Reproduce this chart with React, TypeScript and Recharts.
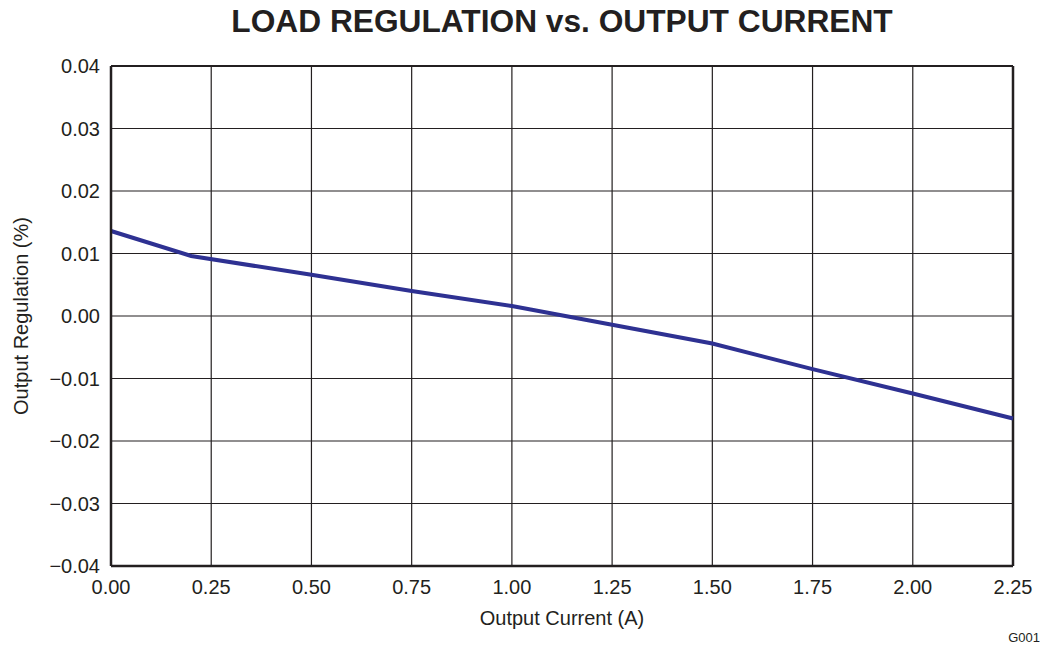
import {
  LineChart, Line, XAxis, YAxis, CartesianGrid, ReferenceLine, Label,
} from 'recharts';

const currentA = [0, 0.2, 0.5, 0.75, 1.0, 1.25, 1.5, 1.75, 2.0, 2.25];
const regulationPct = [0.0136, 0.0096, 0.0066, 0.004, 0.0016, -0.0014, -0.0044, -0.0085, -0.0124, -0.0164];
const xTicks = [0, 0.25, 0.5, 0.75, 1.0, 1.25, 1.5, 1.75, 2.0, 2.25];
const yTicks = [-0.04, -0.03, -0.02, -0.01, 0, 0.01, 0.02, 0.03, 0.04];

const data = currentA.map((x, i) => ({ x, y: regulationPct[i] }));

const ink = '#231f20';
const font = 'Arial, "Liberation Sans", Helvetica, sans-serif';

const fmtY = (v: number) => (v < 0 ? '\u2212' + Math.abs(v).toFixed(2) : v.toFixed(2));

export default function App() {
  return (
    <div style={{ position: 'absolute', left: 0, top: 0, width: 1042, height: 647, background: '#fff', fontFamily: font }}>
      {/* Title */}
      <div style={{
        position: 'absolute', left: 0, width: 1124, top: 5, textAlign: 'center',
        fontSize: 31.7, lineHeight: '32px', fontWeight: 700, color: ink,
      }}>
        LOAD REGULATION vs. OUTPUT CURRENT
      </div>

      <LineChart width={1042} height={647} data={data} margin={{ top: 66, right: 29, bottom: 0, left: 0 }}>
        <CartesianGrid stroke={ink} strokeWidth={1.2} />
        <XAxis
          dataKey="x" type="number" domain={[0, 2.25]} ticks={xTicks} interval={0}
          tickFormatter={(v: number) => v.toFixed(2)}
          height={81} tickSize={0} tickMargin={14}
          axisLine={{ stroke: ink, strokeWidth: 2.5 }}
          tick={{ fontSize: 20, fill: ink, fontFamily: font }}
        >
          <Label value="Output Current (A)" position="insideBottom" offset={22}
            style={{ fontSize: 20, fill: ink, fontFamily: font }} />
        </XAxis>
        <YAxis
          type="number" domain={[-0.04, 0.04]} ticks={yTicks} interval={0}
          tickFormatter={fmtY} width={111} tickSize={0} tickMargin={11}
          axisLine={{ stroke: ink, strokeWidth: 2.5 }}
          tick={{ fontSize: 20, fill: ink, fontFamily: font }}
        >
          <Label value="Output Regulation (%)" angle={-90} position="insideLeft" offset={21}
            style={{ fontSize: 20, fill: ink, fontFamily: font, textAnchor: 'middle' }} />
        </YAxis>
        <ReferenceLine y={0.04} stroke={ink} strokeWidth={2} />
        <ReferenceLine x={2.25} stroke={ink} strokeWidth={2.5} />
        <Line type="linear" dataKey="y" stroke="#2e3192" strokeWidth={4} dot={false} isAnimationActive={false} />
      </LineChart>

      <div style={{
        position: 'absolute', right: 2, top: 631, fontSize: 13, lineHeight: '13px', color: ink,
      }}>
        G001
      </div>
    </div>
  );
}
